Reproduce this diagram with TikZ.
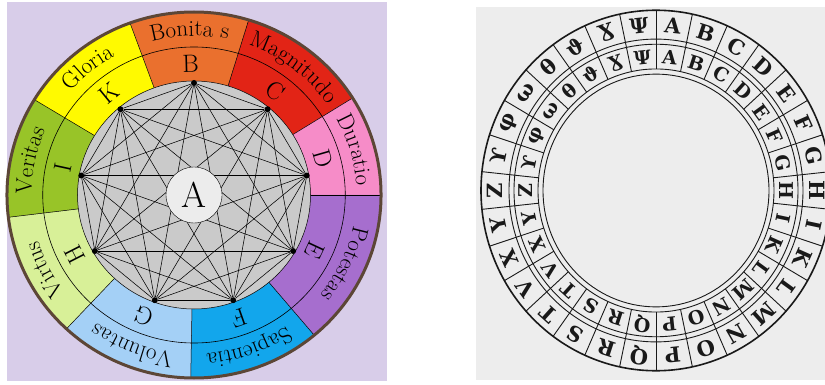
\documentclass[tikz,border=0pt]{standalone}
\usepackage{fontspec}
\newfontfamily\symfont{DejaVu Serif}
\usetikzlibrary{decorations.text}

\definecolor{lavender}{RGB}{216,205,233}
\definecolor{rimbrown}{RGB}{92,70,54}
\definecolor{diskgray}{RGB}{202,202,202}
\definecolor{hubgray}{RGB}{236,236,236}
\definecolor{paper}{RGB}{237,237,237}
\definecolor{inkblack}{RGB}{25,25,25}
\definecolor{cBonitas}{RGB}{234,112,46}
\definecolor{cMagnitudo}{RGB}{226,36,22}
\definecolor{cDuratio}{RGB}{246,140,200}
\definecolor{cPotestas}{RGB}{166,110,206}
\definecolor{cSapientia}{RGB}{18,166,236}
\definecolor{cVoluntas}{RGB}{164,208,246}
\definecolor{cVirtus}{RGB}{216,240,152}
\definecolor{cVeritas}{RGB}{152,196,40}
\definecolor{cGloria}{RGB}{255,250,0}

\newcommand{\namefont}{\fontsize{23}{23}\selectfont}

\tikzset{
  dignity/.style={font=\fontsize{25}{25}\selectfont, inner sep=0pt},
  vertex/.style={circle, fill=black, inner sep=0pt, minimum size=6pt},
  outerglyph/.style={font=\symfont\fontsize{21}{21}\selectfont\bfseries, inner sep=0pt, text=inkblack},
  innerglyph/.style={font=\symfont\fontsize{19}{19}\selectfont\bfseries, inner sep=0pt, text=inkblack},
}

\begin{document}
\begin{tikzpicture}[x=1pt, y=1pt]
\useasboundingbox (0,0) rectangle (825,-385);

% figure A, coloured wheel
\fill[lavender] (7,-2) rectangle (387,-381);
\begin{scope}[shift={(194,-195)}, xscale=1.022]
  \foreach \a/\b/\col in {110/73/cBonitas, 73/32/cMagnitudo, 32/0/cDuratio,
      0/-50/cPotestas, -50/-91/cSapientia, -91/-133/cVoluntas,
      -133/-173/cVirtus, -173/-211.4/cVeritas, -211.4/-250/cGloria}
    \fill[\col] (\a:182) arc[start angle=\a, end angle=\b, radius=182]
      -- (\b:110) arc[start angle=\b, end angle=\a, radius=110] -- cycle;
  \foreach \a in {110,73,32,0,-50,-91,-133,-173,-211.4}
    \draw[line width=0.5pt] (\a:114) -- (\a:182);
  \draw[line width=0.6pt] (0,0) circle (148);
  \draw[rimbrown, line width=3pt] (0,0) circle (183);
  \fill[diskgray] (0,0) circle (114);
  \draw[line width=0.5pt] (0,0) circle (114);

  % the nine points and all their joins
  \foreach \k in {1,...,9}
    \node (v\k) [vertex] at ({130-40*\k}:112) {};
  \foreach \i in {1,...,8} {
    \pgfmathtruncatemacro\nxt{\i+1}
    \foreach \j in {\nxt,...,9}
      \draw[line width=0.55pt] (v\i) -- (v\j);
  }
  \node (hub) [circle, draw, fill=hubgray, minimum size=56pt, inner sep=0pt,
    font=\fontsize{36}{36}\selectfont] at (0,0) {A};

  % names on the rim and letters inside
  \foreach \a/\b/\word/\lett in {110/73/Bonita s/B, 73/32/Magnitudo/C,
      32/0/Duratio/D, 0/-50/Potestas/E, -50/-91/Sapientia/F,
      -91/-133/Voluntas/G, -133/-173/Virtus/H, -173/-211.4/Veritas/I,
      -211.4/-250/Gloria/K} {
    \path[decorate, decoration={text along path, text align=center,
      text/.expanded={|\noexpand\namefont|\word}}]
      (\a:159) arc[start angle=\a, end angle=\b, radius=159];
    \pgfmathsetmacro\mid{(\a+\b)/2}
    \node (l\lett) [dignity, rotate=\mid-90] at (\mid:131) {\lett};
  }
\end{scope}

% alphabet wheel
\fill[paper] (476,-7) rectangle (825,-380);
\begin{scope}[shift={(656,-190.5)}, yscale=1.03]
  \draw[inkblack, line width=1.6pt] (0,0) circle (175);
  \foreach \r in {147,142,118,113}
    \draw[inkblack, line width=0.9pt] (0,0) circle (\r);
  \foreach \k in {0,...,29}
    \draw[inkblack, line width=0.9pt] ({90-12*\k}:118) -- ({90-12*\k}:175);
  \foreach \g [count=\k from 0] in {A,B,C,D,E,F,G,H,I,K,L,M,N,O,P,Q,R,S,T,V,X,Y,Z,
      ϒ,φ,ω,θ,ϑ,Ɣ,Ψ} {
    \node (o\k) [outerglyph, rotate=-6-12*\k] at ({84-12*\k}:161) {\g};
    \node (i\k) [innerglyph, rotate=-6-12*\k] at ({84-12*\k}:130) {\g};
  }
\end{scope}
\end{tikzpicture}
\end{document}
